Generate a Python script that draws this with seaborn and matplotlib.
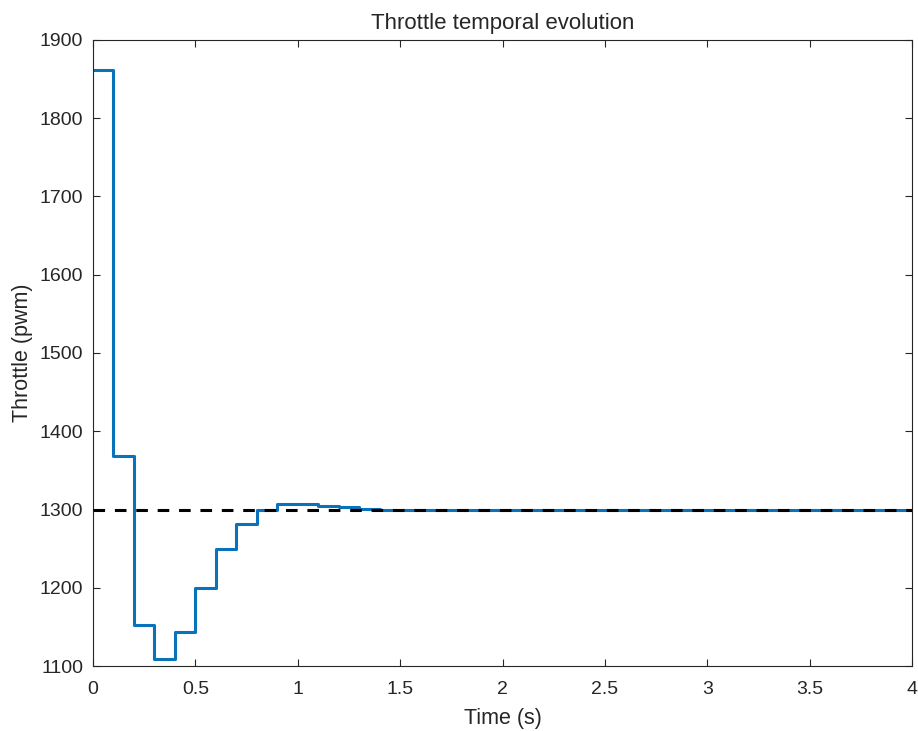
import matplotlib
matplotlib.use("Agg")
import matplotlib.pyplot as plt
import seaborn as sns
import pandas as pd

time_s = [0.0, 0.1, 0.2, 0.3, 0.4, 0.5, 0.6, 0.7, 0.8, 0.9, 1.0, 1.1, 1.2, 1.3, 1.4, 4.0]
throttle = [1862, 1368, 1152, 1109, 1143, 1200, 1250, 1282, 1300, 1307, 1307, 1305, 1303, 1301, 1300, 1300]
reference = 1300
xticks = [0, 0.5, 1, 1.5, 2, 2.5, 3, 3.5, 4]
xticklabels = ["0", "0.5", "1", "1.5", "2", "2.5", "3", "3.5", "4"]
yticks = [1100, 1200, 1300, 1400, 1500, 1600, 1700, 1800, 1900]

df = pd.DataFrame({"Time": time_s, "Throttle": throttle})

sns.set_style("white")
plt.rcParams["font.family"] = ["Liberation Sans", "DejaVu Sans"]

fig = plt.figure(figsize=(9.18, 7.31), dpi=100)
ax = fig.add_axes([0.1013, 0.0889, 0.8922, 0.8564])

sns.lineplot(data=df, x="Time", y="Throttle", ax=ax, drawstyle="steps-post",
             color="#0a72BA", linewidth=2.2, zorder=2)
ax.axhline(reference, color="black", linestyle=(0, (3.8, 3.2)), linewidth=2.2, zorder=3)

ax.set_xlim(0, 4)
ax.set_ylim(1100, 1900)
ax.set_xticks(xticks)
ax.set_xticklabels(xticklabels)
ax.set_yticks(yticks)
ax.tick_params(direction="in", length=5, width=0.8, labelsize=14, colors="#262626",
               top=True, right=True, bottom=True, left=True)
ax.tick_params(axis="x", pad=11)
ax.tick_params(axis="y", pad=7)
for side in ["top", "right", "bottom", "left"]:
    ax.spines[side].set_visible(True)
    ax.spines[side].set_color("#262626")
    ax.spines[side].set_linewidth(0.8)

ax.set_xlabel("Time (s)", fontsize=15.5, color="#262626", labelpad=7)
ax.set_ylabel("Throttle (pwm)", fontsize=15.5, color="#262626", labelpad=5)
ax.set_title("Throttle temporal evolution", fontsize=16, color="#262626", pad=8)

fig.savefig("out.png", dpi=100)
